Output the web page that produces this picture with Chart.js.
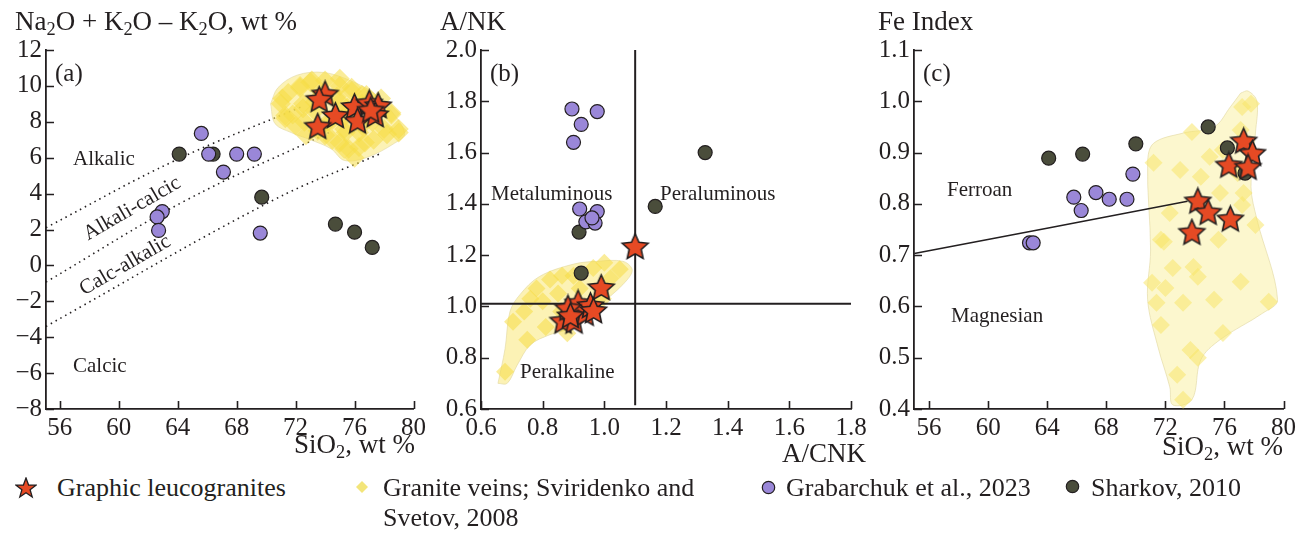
<!DOCTYPE html>
<html>
<head>
<meta charset="utf-8">
<script src="https://cdn.jsdelivr.net/npm/chart.js@4.4.1/dist/chart.umd.min.js"></script>
<style>
  body { margin: 0; background: #fff; }
  #wrap { position: relative; width: 1304px; height: 533px; overflow: hidden;
          font-family: 'Liberation Serif', 'Times New Roman', serif; color: #231f20; }
  .panel { position: absolute; top: 0; }
  .t { position: absolute; white-space: nowrap; line-height: 1; }
  .title { font-size: 27px; }
  .note { font-size: 21px; }
  .leg { font-size: 26px; }
  sub { font-size: 0.68em; vertical-align: -0.28em; line-height: 0; }
  svg { position: absolute; }
</style>
</head>
<body>
<div id="wrap">
  <canvas id="chartA" class="panel" style="left:0px" width="430" height="460"></canvas>
  <canvas id="chartB" class="panel" style="left:435px" width="440" height="460"></canvas>
  <canvas id="chartC" class="panel" style="left:870px" width="430" height="460"></canvas>

  <div class="t title" style="left:15px;top:8px">Na<sub>2</sub>O + K<sub>2</sub>O – K<sub>2</sub>O, wt %</div>
  <div class="t title" style="left:440px;top:8px">A/NK</div>
  <div class="t title" style="left:878px;top:8px">Fe Index</div>

  <div class="t title" style="right:889px;top:431px">SiO<sub>2</sub>, wt %</div>
  <div class="t title" style="right:438px;top:440px">A/CNK</div>
  <div class="t title" style="right:21px;top:433px">SiO<sub>2</sub>, wt %</div>

  <div class="t title" style="left:55px;top:60px;font-size:25px">(a)</div>
  <div class="t note" style="left:73px;top:148px">Alkalic</div>
  <div class="t note" style="left:73px;top:355px">Calcic</div>
  <div class="t note" style="left:90px;top:223px;transform:rotate(-30deg);transform-origin:0 100%">Alkali-calcic</div>
  <div class="t note" style="left:86px;top:278px;transform:rotate(-30deg);transform-origin:0 100%">Calc-alkalic</div>

  <div class="t title" style="left:490px;top:60px;font-size:25px">(b)</div>
  <div class="t note" style="left:491px;top:183px">Metaluminous</div>
  <div class="t note" style="left:660px;top:183px">Peraluminous</div>
  <div class="t note" style="left:520px;top:361px">Peralkaline</div>

  <div class="t title" style="left:923px;top:60px;font-size:25px">(c)</div>
  <div class="t note" style="left:947px;top:179px">Ferroan</div>
  <div class="t note" style="left:951px;top:305px">Magnesian</div>

  <svg style="left:15px;top:477px" width="22" height="22" viewBox="0 0 22 22">
    <polygon points="11,1 13.6,8 21,8.2 15.1,12.8 17.2,20 11,15.8 4.8,20 6.9,12.8 1,8.2 8.4,8"
             fill="#e64a24" stroke="#231f20" stroke-width="1.3"/>
  </svg>
  <div class="t leg" style="left:57px;top:475px">Graphic leucogranites</div>
  <svg style="left:355px;top:480px" width="14" height="14" viewBox="0 0 14 14">
    <polygon points="7,1 13,7 7,13 1,7" fill="#f3e57a"/>
  </svg>
  <div class="t leg" style="left:383px;top:475px">Granite veins; Sviridenko and</div>
  <div class="t leg" style="left:383px;top:505px">Svetov, 2008</div>
  <svg style="left:761px;top:480px" width="15" height="15" viewBox="0 0 15 15">
    <circle cx="7.5" cy="7.5" r="6.2" fill="#9a87d8" stroke="#231f20" stroke-width="1.2"/>
  </svg>
  <div class="t leg" style="left:786px;top:475px">Grabarchuk et al., 2023</div>
  <svg style="left:1065px;top:479px" width="15" height="15" viewBox="0 0 15 15">
    <circle cx="7.5" cy="7.5" r="6.2" fill="#4a4d3b" stroke="#231f20" stroke-width="1.2"/>
  </svg>
  <div class="t leg" style="left:1091px;top:475px">Sharkov, 2010</div>
</div>

<script>
const INK = '#231f20'
const STAR_FILL = '#e64a24'
const GRAB_FILL = '#9a87d8'
const SHARK_FILL = '#4a4d3b'
const VEIN_STRONG = 'rgba(245, 220, 70, 0.55)'
const VEIN_PALE = 'rgba(247, 229, 105, 0.55)'
const AREA_STRONG = 'rgba(249, 232, 120, 0.55)'
const AREA_PALE = 'rgba(250, 240, 165, 0.55)'

// ticks
const siTicks = [56, 60, 64, 68, 72, 76, 80]
const maliTicks = [12, 10, 8, 6, 4, 2, 0, -2, -4, -6, -8]
const acnkTicks = [0.6, 0.8, 1.0, 1.2, 1.4, 1.6, 1.8]
const ankTicks = [2.0, 1.8, 1.6, 1.4, 1.2, 1.0, 0.8, 0.6]
const feTicks = [1.1, 1.0, 0.9, 0.8, 0.7, 0.6, 0.5, 0.4]

// (a) SiO2 vs MALI
const aStars = [[74.0, 9.5], [73.6, 9.2], [74.7, 8.3], [73.5, 7.7], [76.0, 8.8],
                [76.2, 8.0], [77.0, 9.0], [77.6, 8.85], [77.4, 8.35], [77.1, 8.6]]
const aGrab = [[65.6, 7.35], [66.1, 6.2], [67.1, 5.2], [68.0, 6.2], [69.2, 6.2],
               [62.95, 3.0], [62.6, 2.7], [62.7, 1.95], [69.6, 1.8]]
const aShark = [[64.1, 6.2], [66.4, 6.2], [69.7, 3.8], [74.7, 2.3], [76.0, 1.85], [77.2, 1.0]]
const aVeins = [[71.0, 9.0], [71.5, 9.6], [72.3, 9.9], [73.0, 10.2], [74.0, 10.3], [75.0, 10.0],
                [75.8, 9.7], [76.8, 9.5], [77.8, 9.3], [78.5, 8.5], [79.0, 7.6], [78.2, 7.3],
                [77.3, 7.0], [76.3, 6.6], [75.3, 6.5], [74.5, 7.0], [73.5, 7.5], [72.6, 8.0],
                [71.8, 8.4], [72.5, 9.0], [73.3, 8.6], [74.2, 8.0], [75.3, 7.6], [76.3, 7.4],
                [77.2, 8.0], [75.5, 8.8], [74.8, 9.4], [76.5, 9.0], [73.7, 9.7], [71.3, 8.2],
                [71.1, 9.3], [72.3, 10.0], [73.1, 10.3], [75.0, 10.4], [75.8, 9.9], [76.5, 9.5],
                [78.5, 8.4], [79.0, 7.4], [78.0, 7.6], [76.7, 6.85], [75.6, 6.5], [75.0, 6.85],
                [75.4, 7.4], [74.0, 7.25], [72.7, 7.25], [72.0, 7.8], [71.3, 8.35], [72.5, 8.75],
                [73.3, 9.1], [75.0, 9.1], [75.4, 8.35], [74.3, 7.95], [77.2, 8.9], [76.5, 7.8],
                [76.0, 6.0]]
const aVeinsArea = [[70.3, 9.0], [70.8, 9.9], [72.1, 10.6], [73.9, 10.75], [75.7, 10.3],
                    [77.3, 9.6], [78.5, 8.6], [79.4, 7.35], [78.7, 6.8], [76.8, 6.0],
                    [75.3, 5.85], [74.4, 6.5], [73.0, 7.0], [71.7, 7.4], [70.6, 7.9], [70.3, 9.0]]
const aAlkalic = [[55.05, 2.1], [63.84, 5.85], [72.47, 8.86]]
const aAlkCalcic = [[55.05, -0.93], [64.5, 3.6], [74.35, 7.43]]
const aCalcAlk = [[55.05, -3.4], [70.4, 3.6], [77.85, 6.26]]

// (b) A/CNK vs A/NK
const bStars = [[1.1, 1.23], [0.99, 1.07], [0.866, 0.94], [0.902, 0.94], [0.938, 0.97],
                [0.915, 1.01], [0.955, 1.0], [0.882, 0.99], [0.965, 0.98], [0.89, 0.96]]
const bGrab = [[0.895, 1.77], [0.977, 1.76], [0.925, 1.71], [0.9, 1.64], [0.92, 1.38],
               [0.977, 1.37], [0.94, 1.33], [0.97, 1.325], [0.96, 1.345]]
const bShark = [[1.327, 1.60], [1.165, 1.39], [0.918, 1.29], [0.925, 1.13]]
const bVeins = [[0.678, 0.745], [0.75, 0.87], [0.704, 0.94], [0.76, 1.03], [0.824, 1.105],
                [0.863, 1.12], [0.964, 1.15], [1.05, 1.145], [1.02, 1.11], [0.80, 1.02],
                [0.85, 1.05], [0.88, 0.895], [0.81, 0.92], [0.92, 1.07], [0.995, 1.03],
                [0.74, 0.98], [0.78, 1.07], [0.9, 1.12], [1.0, 1.17], [0.86, 0.98]]
const bVeinsArea = [[0.655, 0.70], [0.678, 0.835], [0.694, 0.98], [0.727, 1.047], [0.79, 1.117],
                    [0.9, 1.165], [0.977, 1.176], [1.06, 1.176], [1.09, 1.145], [1.075, 1.105],
                    [1.01, 1.03], [0.955, 0.98], [0.89, 0.915], [0.824, 0.89], [0.76, 0.85],
                    [0.717, 0.77], [0.685, 0.70], [0.655, 0.70]]
const bMetaPera = [[1.1, 2.0], [1.1, 0.615]]
const bPeralk = [[0.6, 1.01], [1.8, 1.01]]

// (c) SiO2 vs Fe index
const cStars = [[77.3, 0.921], [77.9, 0.897], [76.3, 0.874], [77.6, 0.87],
                [74.2, 0.804], [74.9, 0.782], [76.4, 0.769], [73.8, 0.743]]
const cGrab = [[69.8, 0.858], [65.8, 0.813], [67.3, 0.822], [68.2, 0.809], [69.4, 0.809],
               [66.3, 0.787], [62.8, 0.724], [63.05, 0.724]]
const cShark = [[64.1, 0.889], [66.4, 0.897], [70.0, 0.917], [74.9, 0.95], [76.2, 0.909], [77.4, 0.86]]
const cVeins = [[71.7, 0.73], [72.5, 0.675], [73.9, 0.677], [74.2, 0.658], [75.6, 0.73],
                [77.1, 0.648], [75.3, 0.613], [73.2, 0.607], [71.4, 0.607], [71.1, 0.646],
                [72.0, 0.636], [71.7, 0.564], [75.9, 0.548], [73.7, 0.515], [74.2, 0.50],
                [72.8, 0.467], [73.2, 0.418], [79.0, 0.609], [78.1, 0.759], [77.2, 0.798],
                [71.9, 0.726], [71.2, 0.88], [73.8, 0.94], [77.2, 0.989], [74.4, 0.853],
                [75.9, 0.905], [77.1, 0.944], [75.0, 0.892], [76.9, 0.86], [77.3, 0.821],
                [75.7, 0.821], [73.0, 0.866], [72.3, 0.782], [77.8, 0.995]]
const cVeinsArea = [[77.1, 1.016], [77.6, 1.02], [78.2, 1.0], [78.1, 0.938], [77.8, 0.833],
                    [78.2, 0.77], [79.6, 0.613], [78.6, 0.587], [75.7, 0.535], [74.4, 0.496],
                    [73.8, 0.418], [72.5, 0.408], [72.3, 0.443], [71.5, 0.521], [70.8, 0.613],
                    [71.0, 0.71], [70.8, 0.88], [71.2, 0.918], [73.2, 0.938], [75.3, 0.95],
                    [76.4, 0.989], [77.1, 1.016]]
const cFerroan = [[55.0, 0.703], [73.5, 0.805]]

Chart.defaults.font.family = "'Liberation Serif', 'Times New Roman', serif"
Chart.defaults.color = INK

const pts = arr => arr.map(([x, y]) => ({x, y}))

const makeStar = (r, fill) => {
    const c = document.createElement('canvas')
    const s = Math.ceil(r * 2 + 4)
    c.width = s
    c.height = s
    const g = c.getContext('2d')
    g.beginPath()
    for (let i = 0; i < 10; i++) {
        const rad = i % 2 ? r * 0.47 : r
        const a = -Math.PI / 2 + i * Math.PI / 5
        g.lineTo(s / 2 + rad * Math.cos(a), s / 2 + rad * Math.sin(a))
    }
    g.closePath()
    g.fillStyle = fill
    g.fill()
    g.lineWidth = 1.6
    g.strokeStyle = INK
    g.stroke()
    return c
}
const starImg = makeStar(13.5, STAR_FILL)

// ticks point into the plot, only on the left and bottom axes
const inwardTicks = {
    id: 'inwardTicks',
    afterDraw(chart) {
        const {ctx, chartArea, scales: {x, y}} = chart
        ctx.save()
        ctx.strokeStyle = INK
        ctx.lineWidth = 1.6
        ctx.beginPath()
        for (const t of x.ticks) {
            const px = Math.round(x.getPixelForValue(t.value)) + 0.5
            ctx.moveTo(px, chartArea.bottom)
            ctx.lineTo(px, chartArea.bottom - 8)
        }
        for (const t of y.ticks) {
            const py = Math.round(y.getPixelForValue(t.value)) + 0.5
            ctx.moveTo(chartArea.left, py)
            ctx.lineTo(chartArea.left + 8, py)
        }
        ctx.stroke()
        ctx.restore()
    }
}

const starSet = data => ({
    data: pts(data), pointStyle: starImg, pointRadius: 13
})
const dotSet = (data, fill) => ({
    data: pts(data), pointStyle: 'circle', pointRadius: 7,
    backgroundColor: fill, borderColor: INK, borderWidth: 1.2
})
const veinSet = (data, fill, r) => ({
    data: pts(data), pointStyle: 'rectRot', pointRadius: r,
    backgroundColor: fill, borderWidth: 0
})
const areaSet = (data, fill) => ({
    data: pts(data), showLine: true, fill: 'shape', tension: 0.35, pointRadius: 0,
    backgroundColor: fill, borderColor: 'rgba(225, 215, 160, 0.6)', borderWidth: 1
})
const lineSet = (data, width, dash) => ({
    data: pts(data), showLine: true, pointRadius: 0, tension: 0.4,
    borderColor: INK, borderWidth: width, borderDash: dash || []
})

const makePanel = (id, p) => {
    const axis = (min, max, ticks, fmt, fit) => ({
        type: 'linear', min, max,
        afterBuildTicks: scale => { scale.ticks = ticks.map(value => ({value})) },
        afterFit: fit,
        grid: {display: false, drawTicks: false},
        border: {display: true, color: INK, width: 1.8},
        ticks: {
            font: {size: 25}, color: INK, padding: 4,
            autoSkip: false, maxRotation: 0, callback: fmt,
        },
    })
    new Chart(document.getElementById(id), {
        type: 'scatter',
        data: {datasets: p.datasets},
        options: {
            responsive: false,
            animation: false,
            events: [],
            layout: {padding: {top: 50, right: p.rightPad, left: 0, bottom: 0}},
            scales: {
                x: axis(p.xMin, p.xMax, p.xTicks, p.xFmt, s => { s.height = 51 }),
                y: axis(p.yMin, p.yMax, p.yTicks, p.yFmt, s => { s.width = p.yWidth }),
            },
            plugins: {legend: {display: false}, tooltip: {enabled: false}},
        },
        plugins: [inwardTicks],
    })
}

const intFmt = v => String(v).replace('-', '\u2212')
const decFmt = v => Number(v).toFixed(1)

makePanel('chartA', {
    xMin: 55.06, xMax: 80, yMin: -8, yMax: 12,
    xTicks: siTicks, yTicks: maliTicks, xFmt: intFmt, yFmt: intFmt,
    yWidth: 46, rightPad: 13,
    datasets: [
        starSet(aStars),
        dotSet(aGrab, GRAB_FILL),
        dotSet(aShark, SHARK_FILL),
        veinSet(aVeins, VEIN_STRONG, 10),
        areaSet(aVeinsArea, AREA_STRONG),
        lineSet(aAlkalic, 1.6, [1.5, 4]),
        lineSet(aAlkCalcic, 1.6, [1.5, 4]),
        lineSet(aCalcAlk, 1.6, [1.5, 4]),
    ],
})

makePanel('chartB', {
    xMin: 0.6, xMax: 1.8, yMin: 0.6, yMax: 2.0,
    xTicks: acnkTicks, yTicks: ankTicks, xFmt: decFmt, yFmt: decFmt,
    yWidth: 46, rightPad: 24,
    datasets: [
        starSet(bStars),
        dotSet(bGrab, GRAB_FILL),
        dotSet(bShark, SHARK_FILL),
        lineSet(bMetaPera, 2),
        lineSet(bPeralk, 2),
        veinSet(bVeins, VEIN_STRONG, 9),
        areaSet(bVeinsArea, AREA_STRONG),
    ],
})

makePanel('chartC', {
    xMin: 54.98, xMax: 80, yMin: 0.4, yMax: 1.1,
    xTicks: siTicks, yTicks: feTicks, xFmt: intFmt, yFmt: decFmt,
    yWidth: 44, rightPad: 16,
    datasets: [
        starSet(cStars),
        dotSet(cGrab, GRAB_FILL),
        dotSet(cShark, SHARK_FILL),
        lineSet(cFerroan, 1.5),
        veinSet(cVeins, VEIN_PALE, 9),
        areaSet(cVeinsArea, AREA_PALE),
    ],
})
</script>
</body>
</html>
